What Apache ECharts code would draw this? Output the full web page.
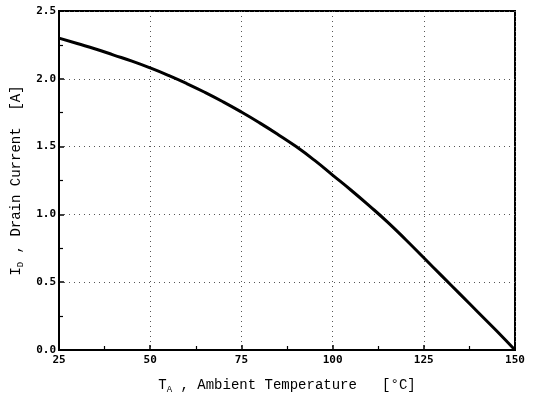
<!DOCTYPE html>
<html>
<head>
<meta charset="utf-8">
<script src="https://cdn.jsdelivr.net/npm/echarts@6/dist/echarts.min.js"></script>
<style>
  html, body { margin: 0; padding: 0; background: #fff; }
  #chart { width: 540px; height: 406px; }
</style>
</head>
<body>
<div id="chart"></div>
<script>
// ambient temperature (deg C) and drain current (A)
var temps = [25, 30, 35, 40, 45, 50, 55, 60, 65, 70, 75, 80, 85, 90, 95, 100, 105, 110, 115, 120, 125, 130, 135, 140, 145, 150];
var current = [2.30, 2.26, 2.22, 2.175, 2.13, 2.08, 2.025, 1.965, 1.90, 1.83, 1.755, 1.675, 1.59, 1.50, 1.40, 1.29, 1.18, 1.065, 0.945, 0.815, 0.68, 0.545, 0.41, 0.275, 0.14, 0.00];

var xTicks = [25, 50, 75, 100, 125, 150];
var yTicks = [0.0, 0.5, 1.0, 1.5, 2.0, 2.5];

var points = temps.map(function (t, i) { return [t, current[i]]; });

var myChart = echarts.init(document.getElementById("chart"));
var labelFont = "DejaVu Sans Mono";
var titleFont = "Liberation Mono";

var titleRich = {
	t: { fontFamily: titleFont, fontSize: 14, color: "#000" },
	s: { fontFamily: titleFont, fontSize: 9, color: "#000", verticalAlign: "bottom", padding: [8, 0, 0, 0] }
};

myChart.setOption({
	animation: false,
	grid: {
		left: 59, right: 25, top: 11, bottom: 56,
		show: true, borderColor: "#000", borderWidth: 2
	},
	xAxis: {
		type: "value",
		min: xTicks[0], max: xTicks[xTicks.length - 1], interval: 25,
		name: "{t|T}{s|A}{t| , Ambient Temperature   [°C]}",
		nameLocation: "middle",
		nameGap: 27,
		nameTextStyle: { rich: titleRich },
		axisLine: { lineStyle: { color: "#000", width: 2 } },
		axisTick: { inside: true, length: 5, lineStyle: { color: "#000", width: 1.5 } },
		minorTick: { show: true, splitNumber: 2, length: 4, lineStyle: { color: "#000", width: 1.2 } },
		axisLabel: {
			color: "#000", fontFamily: labelFont, fontWeight: "bold", fontSize: 11, margin: 5,
			formatter: function (v) { return String(v); }
		},
		splitLine: { show: true, lineStyle: { color: "#555", type: [1, 4], width: 1 } }
	},
	yAxis: {
		type: "value",
		min: yTicks[0], max: yTicks[yTicks.length - 1], interval: 0.5,
		name: "{t|I}{s|D}{t| , Drain Current  [A]}",
		nameLocation: "middle",
		nameGap: 34,
		nameTextStyle: { rich: titleRich },
		axisLine: { show: true, lineStyle: { color: "#000", width: 2 } },
		axisTick: { show: true, inside: true, length: 5, lineStyle: { color: "#000", width: 1.5 } },
		minorTick: { show: true, splitNumber: 2, length: 4, lineStyle: { color: "#000", width: 1.2 } },
		axisLabel: {
			color: "#000", fontFamily: labelFont, fontWeight: "bold", fontSize: 11, margin: 3,
			formatter: function (v) { return v.toFixed(1); }
		},
		splitLine: { show: true, lineStyle: { color: "#555", type: [1, 4], width: 1 } }
	},
	series: [
		{
			name: "Drain Current",
			type: "line",
			smooth: true,
			showSymbol: false,
			data: points,
			lineStyle: { color: "#000", width: 3 }
		}
	]
});
</script>
</body>
</html>
